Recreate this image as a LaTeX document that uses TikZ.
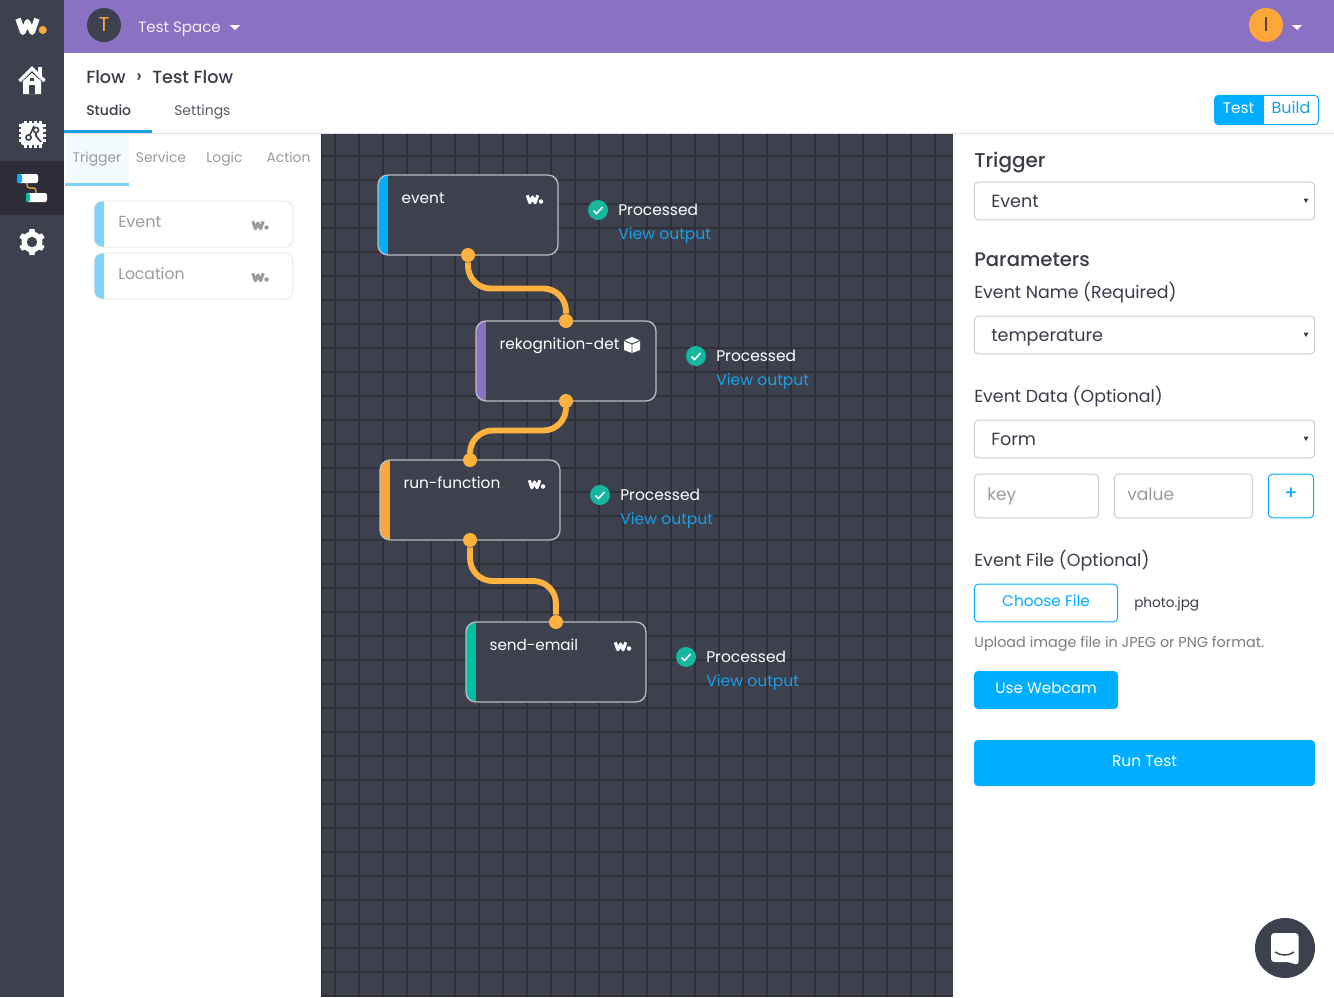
\documentclass[tikz,border=0pt]{standalone}
\usepackage{fontspec}
\setmainfont{Poppins}
\newfontfamily\medfont{Poppins Medium}
\usetikzlibrary{positioning}

\definecolor{sidedark}{HTML}{3D404D}
\definecolor{sideactive}{HTML}{2D2D38}
\definecolor{topbar}{HTML}{8B71C2}
\definecolor{gridline}{HTML}{2F3037}
\definecolor{skyblue}{HTML}{00AEFF}
\definecolor{linkblue}{HTML}{1A9FE5}
\definecolor{paleblue}{HTML}{7DD3FB}
\definecolor{wireorange}{HTML}{FFB23F}
\definecolor{barorange}{HTML}{FFA63A}
\definecolor{barteal}{HTML}{00BFA5}
\definecolor{checkteal}{HTML}{14B8A0}
\definecolor{inkdark}{HTML}{3A3D49}
\definecolor{inkgrey}{HTML}{9B9B9F}
\definecolor{edgegrey}{HTML}{CCCCCC}

\tikzset{
  fs/.style={font=\fontsize{#1}{#1}\selectfont},
  fm/.style={font=\medfont\fontsize{#1}{#1}\selectfont},
  lab/.style={inner sep=0pt, anchor=base west},
  cen/.style={inner sep=0pt, anchor=base},
  stepbox/.style={draw=white!65!sidedark, line width=1pt, fill=sidedark, rounded corners=7.5pt,
    minimum width=135pt, minimum height=60pt, inner sep=0pt,
    path picture={\fill[#1, sharp corners] (path picture bounding box.south west) rectangle
      ([xshift=7.5pt]path picture bounding box.north west);}},
  cardbox/.style={draw=black!9, line width=0.75pt, rounded corners=6pt,
    minimum width=149pt, minimum height=34.5pt, inner sep=0pt,
    path picture={\fill[paleblue, sharp corners] (path picture bounding box.south west) rectangle
      ([xshift=7.5pt]path picture bounding box.north west);}},
  formbox/.style={draw=edgegrey, line width=0.75pt, rounded corners=3pt, inner sep=0pt},
  bluebox/.style={draw=skyblue, line width=0.75pt, rounded corners=3pt, inner sep=0pt},
  fillbox/.style={fill=skyblue, rounded corners=3pt, inner sep=0pt},
  dot/.style={circle, fill=wireorange, minimum size=10.5pt, inner sep=0pt},
  wire/.style={wireorange, line width=4.4pt, rounded corners=17pt},
  check/.style={circle, fill=checkteal, minimum size=15pt, inner sep=0pt},
  avatar/.style={circle, minimum size=25.5pt, inner sep=0pt},
}

% W mark with its dot: x, y, scale, colour of the W, colour of the dot
\newcommand{\wmark}[5]{
  \begin{scope}[shift={(#1,#2)}, scale=#3]
    \draw[#4, line width=#3*4.6pt, line join=round] (-10.5,-7.5) -- (-5.2,7.5) -- (0,-4) -- (5.2,7.5) -- (10.5,-7.5);
    \fill[#5] (17,5) circle (4.5);
  \end{scope}
}

\begin{document}
\begin{tikzpicture}[x=0.75pt, y=-0.75pt]
  \useasboundingbox (0,0) rectangle (1334,997);
  \fill[white] (0,0) rectangle (1334,997);

  % Sidebar and top bar
  \fill[sidedark] (0,0) rectangle (64,997);
  \fill[sideactive] (0,161) rectangle (64,215);
  \fill[topbar] (64,0) rectangle (1334,53);

  % Sidebar icons
  \wmark{27.5}{25.5}{0.9}{white}{barorange}
  \draw[white, line width=2.6pt, line join=miter] (19.5,81) -- (32,68.5) -- (44.5,81);
  \fill[white] (38,67) rectangle (42,76);
  \fill[white] (23,81) -- (32,73) -- (41,81) -- (41,94) -- (23,94) -- cycle;
  \fill[sidedark] (29,85) rectangle (35,94);
  \fill[sidedark] (30,78) rectangle (34,81);

  \fill[white, rounded corners=1.5pt] (21,123) rectangle (43,145);
  \foreach \p in {24,29,34,39} {
    \fill[white] (\p,120.5) rectangle ++(2.5,3);
    \fill[white] (\p,145) rectangle ++(2.5,3);
    \fill[white] (18.5,\p+100) rectangle ++(3,2.5);
    \fill[white] (43,\p+100) rectangle ++(3,2.5);
  }
  \draw[sidedark, line width=1.2pt] (28.5,137.5) circle (2.6);
  \draw[sidedark, line width=1.2pt] (36,130) circle (2.6);
  \draw[sidedark, line width=1.2pt] (30,135) -- (34,126);
  \draw[sidedark, line width=1.2pt] (36,132.6) -- (36,136) -- (41,142);

  \fill[white, rounded corners=1.5pt] (17,174) rectangle (38,183);
  \fill[skyblue, rounded corners=1.5pt] (17,174) rectangle (22,183);
  \draw[wireorange, line width=0.8pt, rounded corners=2pt] (27,183) |- (32,188) -| (36,193);
  \fill[white, rounded corners=1.5pt] (26,193) rectangle (47,202);
  \fill[barteal, rounded corners=1.5pt] (26,193) rectangle (30,202);

  \foreach \a in {30,90,...,330} {
    \fill[white, rotate around={\a:(32,242)}] (38,238.5) -- (45,239.5) -- (45,244.5) -- (38,245.5) -- cycle;
  }
  \fill[white] (32,242) circle (10.5);
  \fill[sidedark] (32,242) circle (5.2);

  % Top bar contents
  \node[avatar, fill=sidedark, text=barorange, fs=15] (spaceavatar) at (104,25) {T};
  \node[lab, fs=11.3, text=white!88!topbar] (spacename) at (138,32) {Test Space};
  \fill[white] (230,25) -- (240,25) -- (235,30) -- cycle;
  \node[avatar, fill=barorange, text=inkdark, fs=15] (useravatar) at (1266,25) {I};
  \fill[white] (1292,25) -- (1302,25) -- (1297,30) -- cycle;

  % Breadcrumb and tabs
  \node[lab, fm=13.2, text=inkdark] (crumbflow) at (86,83) {Flow};
  \node[lab, fm=14, text=inkdark] (crumbsep) at (136,82.5) {›};
  \node[lab, fm=13.2, text=inkdark] (crumbtest) at (152,83) {Test Flow};
  \node[lab, fm=10.5, text=inkdark] (tabstudio) at (86,115) {Studio};
  \node[lab, fs=10.5, text=inkdark!85] (tabsettings) at (174,115) {Settings};
  \fill[black!12] (64,132.5) rectangle (1334,134);
  \fill[linkblue] (64,130) rectangle (152,133);

  % Test / Build switch
  \node[bluebox, minimum width=78pt, minimum height=22pt,
    path picture={\fill[skyblue, sharp corners] (path picture bounding box.south west) rectangle
      ([xshift=37pt]path picture bounding box.north west);}] (modeswitch) at (1266.5,110) {};
  \node[cen, fs=11.5, text=white] (modetest) at (1238.5,113) {Test};
  \node[cen, fs=12, text=linkblue] (modebuild) at (1291,113) {Build};

  % Palette
  \fill[black!2!paleblue!8] (65,134) rectangle (129,186);
  \fill[paleblue] (65,183) rectangle (129,186);
  \foreach \nm/\xx/\lb in {trigger/97/Trigger, service/161/Service, logic/224.5/Logic, action/288.5/Action} {
    \node[cen, fs=10.4, text=inkgrey] (pal\nm) at (\xx,162) {\lb};
  }
  \node[cardbox] (cardevent) at (193.5,224) {};
  \node[lab, fs=12, text=inkgrey] (cardeventlab) at (118,227) {Event};
  \wmark{258}{225}{0.5}{inkgrey}{inkgrey}
  \node[cardbox] (cardlocation) at (193.5,276) {};
  \node[lab, fs=11.7, text=inkgrey] (cardlocationlab) at (118,279) {Location};
  \wmark{258}{277}{0.5}{inkgrey}{inkgrey}

  % Canvas with its grid
  \fill[sidedark] (321,134) rectangle (953,997);
  \foreach \x in {335,359,...,935} {
    \draw[gridline, line width=1.4pt] (\x,134) -- (\x,997);
  }
  \foreach \y in {156,180,...,996} {
    \draw[gridline, line width=1.4pt] (321,\y) -- (953,\y);
  }
  \draw[gridline, line width=1pt] (321.5,134) -- (321.5,997);

  % Flow steps
  \node[stepbox=skyblue] (event) at (468,215) {};
  \node[stepbox=topbar] (rekognition) at (566,361) {};
  \node[stepbox=barorange] (runfunction) at (470,500) {};
  \node[stepbox=barteal] (sendemail) at (556,662) {};

  \node[lab, fs=11.5, text=white, right=18pt of event.north west, anchor=base west, yshift=-21.5pt] (eventlab) {event};
  \node[lab, fs=11.5, text=white, right=18pt of rekognition.north west, anchor=base west, yshift=-21.5pt] (rekognitionlab) {rekognition-det};
  \node[lab, fs=11.5, text=white, right=18pt of runfunction.north west, anchor=base west, yshift=-21.5pt] (runfunctionlab) {run-function};
  \node[lab, fs=11.4, text=white, right=18pt of sendemail.north west, anchor=base west, yshift=-21.5pt] (sendemaillab) {send-email};

  \wmark{532.5}{199}{0.5}{white}{white}
  \wmark{534.5}{484}{0.5}{white}{white}
  \wmark{620.5}{646}{0.5}{white}{white}

  % Cube on the service step
  \fill[white] (632,337) -- (640,340.5) -- (640,350) -- (632,353) -- (624,350) -- (624,340.5) -- cycle;
  \draw[sidedark, line width=0.7pt] (624,340.5) -- (632,344) -- (640,340.5) (632,344) -- (632,353);

  % Ports and wires
  \node[dot] (eventout) at (468,255) {};
  \node[dot] (rekognitionin) at (566,321) {};
  \node[dot] (rekognitionout) at (566,401) {};
  \node[dot] (runfunctionin) at (470,460) {};
  \node[dot] (runfunctionout) at (470,540) {};
  \node[dot] (sendemailin) at (556,622) {};
  \coordinate (bendone) at (517,288.5);
  \coordinate (bendtwo) at (518,430.5);
  \coordinate (bendthree) at (513,581);
  \draw[wire] (eventout) |- (bendone) -| (rekognitionin);
  \draw[wire] (rekognitionout) |- (bendtwo) -| (runfunctionin);
  \draw[wire] (runfunctionout) |- (bendthree) -| (sendemailin);

  % Status next to each step
  \foreach \nm/\xx/\yy in {one/598/210, two/696/356, three/600/495, four/686/657} {
    \node[check] (check\nm) at (\xx,\yy) {};
    \draw[white, line width=1.2pt] (\xx-4.5,\yy+0.5) -- (\xx-1.5,\yy+3.5) -- (\xx+4.5,\yy-3);
    \node[lab, fs=11.6, text=white] (status\nm) at (\xx+20,\yy+5) {Processed};
    \node[lab, fs=11.7, text=linkblue] (output\nm) at (\xx+20,\yy+29) {View output};
  }

  % Right panel
  \node[lab, fm=15, text=inkdark] (triggerhead) at (974,167) {Trigger};
  \node[lab, fm=14.7, text=inkdark] (paramhead) at (974,266) {Parameters};
  \node[lab, fs=13.05, text=inkdark] (eventnamehead) at (974,298) {Event Name (Required)};
  \node[lab, fs=13.05, text=inkdark] (eventdatahead) at (974,402) {Event Data (Optional)};
  \node[lab, fs=13.1, text=inkdark] (eventfilehead) at (974,566) {Event File (Optional)};

  \foreach \nm/\yy/\lb in {trigger/201/Event, name/335/temperature, data/439/Form} {
    \node[formbox, minimum width=255.25pt, minimum height=28.25pt] (drop\nm) at (1144.5,\yy) {};
    \node[lab, fs=13.2, text=inkdark] (drop\nm lab) at (991,\yy+6) {\lb};
    \fill[inkdark] (1303.5,\yy-2.5) -- (1308.5,\yy-2.5) -- (1306,\yy+2) -- cycle;
  }

  \node[formbox, minimum width=93.25pt, minimum height=32.75pt] (keybox) at (1036.5,496) {};
  \node[lab, fs=12.8, text=inkgrey] (keylab) at (987,500) {key};
  \node[formbox, minimum width=103.75pt, minimum height=32.75pt] (valuebox) at (1183.5,496) {};
  \node[lab, fs=12.8, text=inkgrey] (valuelab) at (1127,500) {value};
  \node[bluebox, minimum width=34pt, minimum height=32.75pt] (addbox) at (1291,496) {};
  \node[cen, fm=14, text=skyblue] (addlab) at (1291,499) {+};

  \node[bluebox, minimum width=107.5pt, minimum height=28.25pt] (choosefile) at (1046,603) {};
  \node[cen, fs=11.5, text=skyblue] (choosefilelab) at (1046,606) {Choose File};
  \node[lab, fs=10.2, text=inkdark] (filename) at (1134,607) {photo.jpg};
  \node[lab, fs=10.8, text=inkgrey!80!black] (uploadhint) at (974,647) {Upload image file in JPEG or PNG format.};

  \node[fillbox, minimum width=108pt, minimum height=28.5pt] (webcam) at (1046,690) {};
  \node[cen, fs=11.4, text=white] (webcamlab) at (1046,693) {Use Webcam};
  \node[fillbox, minimum width=255.75pt, minimum height=34.5pt] (runtest) at (1144.5,763) {};
  \node[cen, fs=11.6, text=white] (runtestlab) at (1144.5,766) {Run Test};

  % Chat bubble
  \node[circle, fill=sidedark, minimum size=45pt, inner sep=0pt] (chat) at (1285,948) {};
  \fill[white, rounded corners=2.5pt] (1271,933) -- (1298.5,933) -- (1298.5,965) -- (1288,962) -- (1271,962) -- cycle;
  \draw[sidedark, line width=1.1pt] (1275,952) .. controls (1280,956) and (1289,956) .. (1294,952);
\end{tikzpicture}
\end{document}
